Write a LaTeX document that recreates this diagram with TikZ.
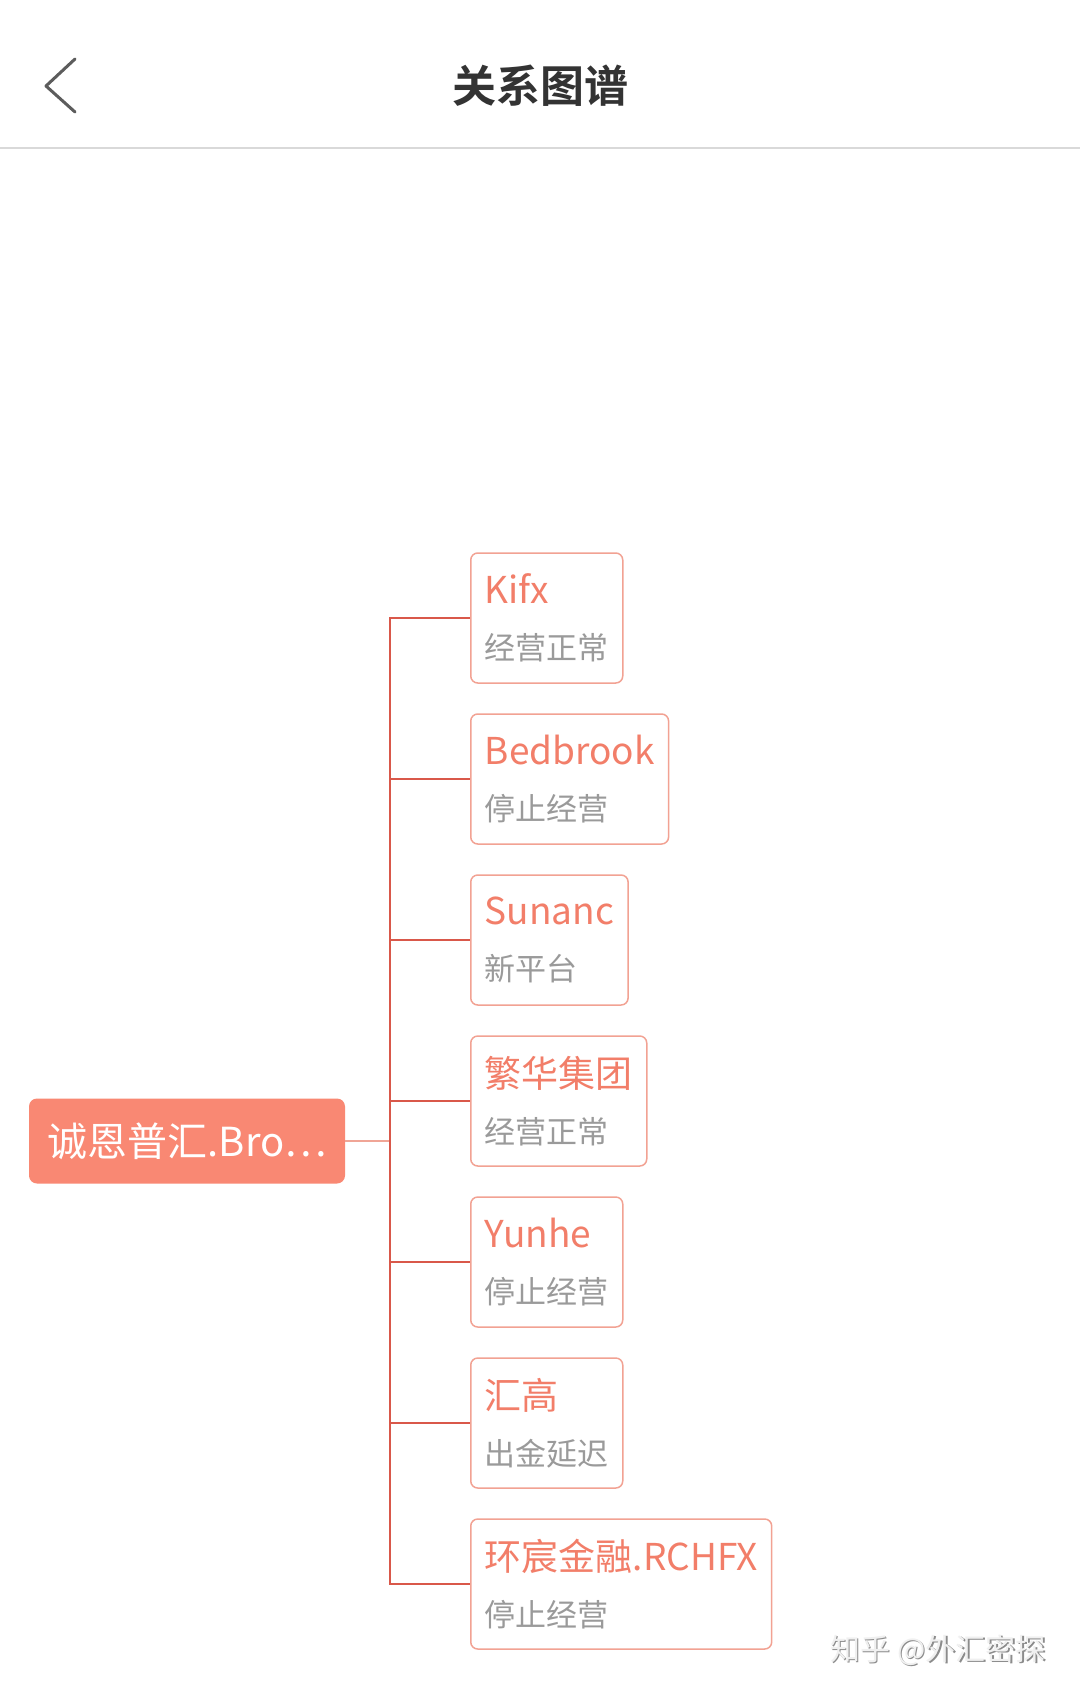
\documentclass[tikz,border=0pt]{standalone}
\usepackage{fontspec}
\setmainfont{Noto Sans CJK SC}
\newfontfamily\cjkbold{Noto Sans CJK SC Bold}
\definecolor{rootfill}{HTML}{F98873}
\definecolor{boxline}{HTML}{F2A293}
\definecolor{ttl}{HTML}{F27E69}
\definecolor{subc}{HTML}{9A9A9A}
\definecolor{conn}{HTML}{D9584A}
\definecolor{connlight}{HTML}{F0A596}
\definecolor{hdr}{HTML}{333333}
\begin{document}
\begin{tikzpicture}[x=1pt,y=-1pt,
  childbox/.style={draw=boxline,line width=1.5pt,rounded corners=7pt,fill=white,
    anchor=west,minimum height=130pt,inner xsep=14pt,inner ysep=0pt,align=left,
    font=\fontsize{37}{56}\selectfont},
  rootbox/.style={fill=rootfill,rounded corners=8pt,minimum width=316pt,minimum height=85pt,
    inner sep=0pt,text=white,font=\fontsize{40}{40}\selectfont},
  connline/.style={draw=conn,line width=1.8pt},
  rootline/.style={draw=connlight,line width=1.5pt},
  subtxt/.style={}]
\useasboundingbox (0,0) rectangle (1080,1694);
\fill[white] (0,0) rectangle (1080,1694);
% header
\coordinate (chtop) at (75,59);
\coordinate (chtip) at (46,86);
\coordinate (chbot) at (75,112);
\draw[color=hdr!80,line width=3pt,line cap=round,line join=round] (chtop) -- (chtip) -- (chbot);
\node[text=hdr,font=\cjkbold\fontsize{44}{44}\selectfont] (title) at (540,86) {关系图谱};
\coordinate (sepL) at (0,148);
\coordinate (sepR) at (1080,148);
\draw[color=black!15,line width=2pt] (sepL) -- (sepR);
% root
\node[rootbox] (root) at (187,1141) {诚恩普汇.Bro…};
\coordinate (bus) at (390,1141);
% children
\node[childbox] (c1) at (470,618) {\textcolor{ttl}{Kifx}\\{\fontsize{31}{56}\selectfont\textcolor{subc}{经营正常}}};
\node[childbox] (c2) at (470,779) {\textcolor{ttl}{Bedbrook}\\{\fontsize{31}{56}\selectfont\textcolor{subc}{停止经营}}};
\node[childbox] (c3) at (470,940) {\textcolor{ttl}{Sunanc}\\{\fontsize{31}{56}\selectfont\textcolor{subc}{新平台}}};
\node[childbox] (c4) at (470,1101) {\textcolor{ttl}{繁华集团}\\{\fontsize{31}{56}\selectfont\textcolor{subc}{经营正常}}};
\node[childbox] (c5) at (470,1262) {\textcolor{ttl}{Yunhe}\\{\fontsize{31}{56}\selectfont\textcolor{subc}{停止经营}}};
\node[childbox] (c6) at (470,1423) {\textcolor{ttl}{汇高}\\{\fontsize{31}{56}\selectfont\textcolor{subc}{出金延迟}}};
\node[childbox] (c7) at (470,1584) {\textcolor{ttl}{环宸金融.RCHFX}\\{\fontsize{31}{56}\selectfont\textcolor{subc}{停止经营}}};
% connectors
\draw[rootline] (root.east) -- (bus);
\foreach \c in {c1,c2,c3,c4,c5,c6,c7}{
  \draw[connline] (bus) |- (\c.west);
}
% watermark bottom right
\node[text=black!45,font=\fontsize{30}{30}\selectfont] (wmshadow) at (939.5,1651.5) {知乎 @外汇密探};
\node[text=black!6,font=\fontsize{30}{30}\selectfont] (wm) at (938,1650) {知乎 @外汇密探};
\end{tikzpicture}
\end{document}
